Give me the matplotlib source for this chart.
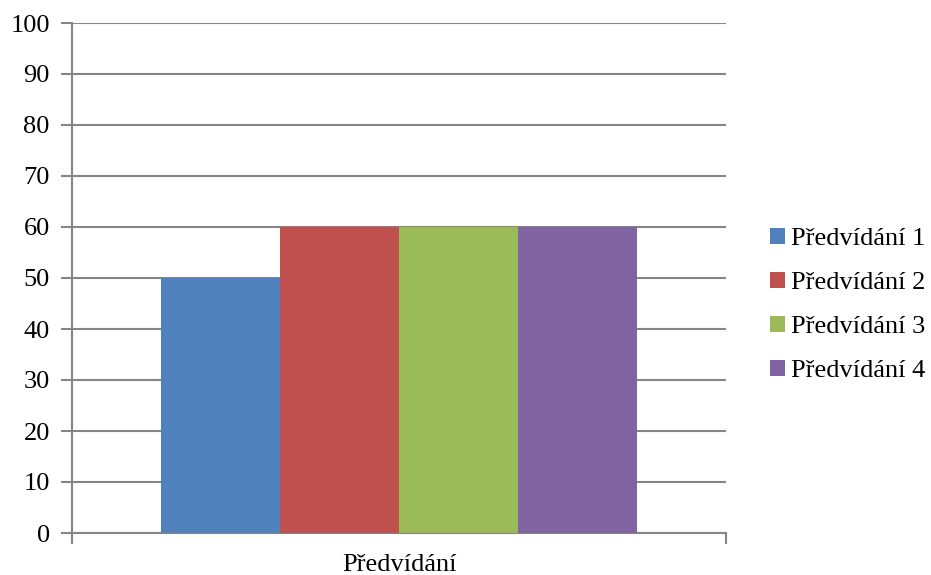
import matplotlib
matplotlib.use("Agg")
import matplotlib.pyplot as plt
from matplotlib.patches import Patch

category = "Předvídání"
series = ["Předvídání 1", "Předvídání 2", "Předvídání 3", "Předvídání 4"]
values = [50, 60, 60, 60]
colors = ["#4F81BD", "#C0504D", "#9BBB59", "#8064A2"]
yticks = [0, 10, 20, 30, 40, 50, 60, 70, 80, 90, 100]

plt.rcParams["font.family"] = ["Liberation Serif", "DejaVu Serif"]
fs = 19

W, H = 931, 575
fig = plt.figure(figsize=(W / 100, H / 100), dpi=100)
ax = fig.add_axes([72 / W, 1 - 533 / H, (726 - 72) / W, (533 - 23) / H])

grid_c = "#868686"
bw = 0.1817
n = len(series)
for i, (v, c) in enumerate(zip(values, colors)):
    ax.bar((i - (n - 1) / 2) * bw, v, width=bw, color=c, zorder=3)

ax.set_xlim(-0.5, 0.5)
ax.set_ylim(0, 100)
ax.set_yticks(yticks)
ax.set_yticklabels([str(t) for t in yticks], fontsize=fs)
ax.yaxis.grid(True, color=grid_c, linewidth=1.5, zorder=0)
ax.set_axisbelow(True)

ax.set_xticks([-0.5, 0.5])
ax.set_xticklabels(["", ""])
ax.tick_params(axis="x", length=8, width=1.5, color=grid_c, direction="out")
ax.tick_params(axis="y", length=8, width=1.5, color=grid_c, direction="out", pad=8)

# category label centred under the plot area
fig.text((72 + 726) / 2 / W, 4 / H, category, ha="center", va="baseline", fontsize=fs)

for s in ["top", "right"]:
    ax.spines[s].set_visible(False)
for s in ["left", "bottom"]:
    ax.spines[s].set_color(grid_c)
    ax.spines[s].set_linewidth(1.5)

handles = [Patch(facecolor=c, label=l) for c, l in zip(colors, series)]
fig.legend(handles=handles, loc="center left", bbox_to_anchor=(757 / W, 1 - 305 / H),
           frameon=False, fontsize=fs, handlelength=0.55, handleheight=0.55,
           handletextpad=0.25, labelspacing=0.82, borderpad=0)

fig.savefig("out.png", dpi=100)
